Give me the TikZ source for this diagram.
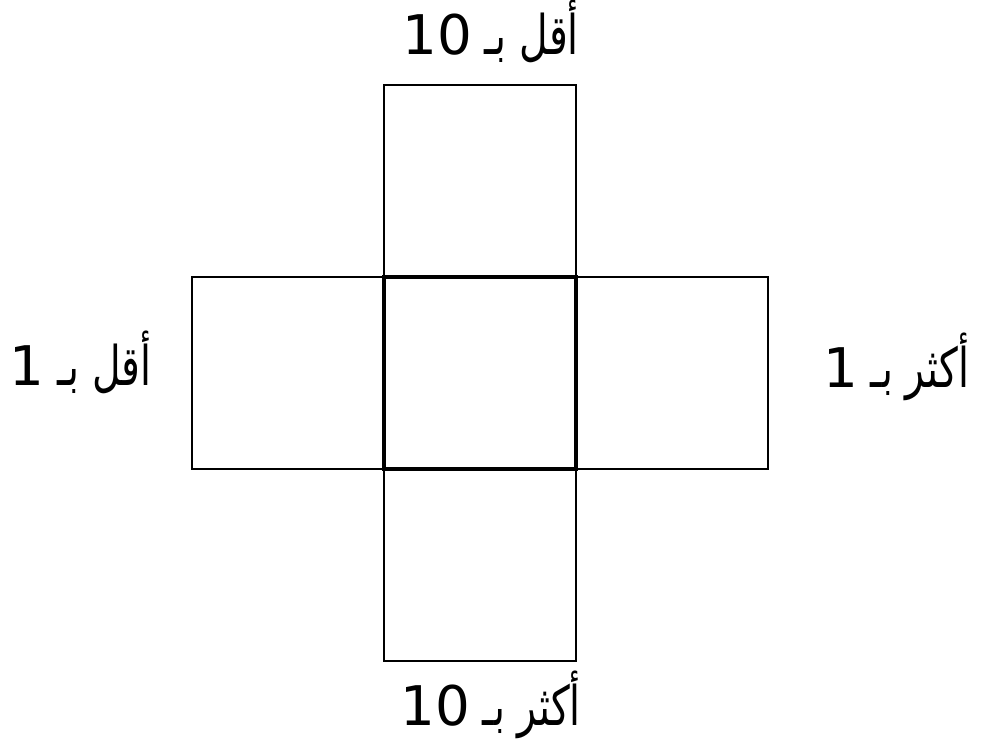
\documentclass[tikz,border=0pt]{standalone}
\usepackage{fontspec}
\newfontfamily\arabicfont[Script=Arabic, FakeStretch=0.72]{DejaVu Sans}
\newfontfamily\digitfont{DejaVu Sans}
\TeXXeTstate=1
\usetikzlibrary{positioning}

\tikzset{
  cell/.style={draw, rectangle, minimum size=144pt, inner sep=0pt, outer sep=0pt, line width=1pt},
  middlecell/.style={cell, line width=3.2pt},
  lbl/.style={inner sep=0pt, font=\arabicfont\fontsize{41}{46}\selectfont}
}
\newcommand{\numtxt}[1]{\beginL{\digitfont #1}\endL}

\begin{document}
\begin{tikzpicture}[x=0.75pt, y=-0.75pt]
  \useasboundingbox (0,0) rectangle (981,742);

  % the four neighbours around the middle square
  \node[cell] (middle) at (480,373) {};
  \node[cell, above=0pt of middle] (upper) {};
  \node[cell, below=0pt of middle] (lower) {};
  \node[cell, left=0pt of middle] (west) {};
  \node[cell, right=0pt of middle] (east) {};
  \node[middlecell] at (middle) {};

  % labels
  \node[lbl, anchor=base] (lessten) at ([xshift=8pt, yshift=23pt]upper.north) {\beginR أقل بـ \numtxt{10}\endR};
  \node[lbl, anchor=base] (moreten) at ([xshift=8pt, yshift=-48pt]lower.south) {\beginR أكثر بـ \numtxt{10}\endR};
  \node[lbl, anchor=base east] (lessone) at ([xshift=-30pt, yshift=-9pt]west.west) {\beginR أقل بـ \numtxt{1}\endR};
  \node[lbl, anchor=base east] (moreone) at ([xshift=151pt, yshift=-10.5pt]east.east) {\beginR أكثر بـ \numtxt{1}\endR};
\end{tikzpicture}
\end{document}
